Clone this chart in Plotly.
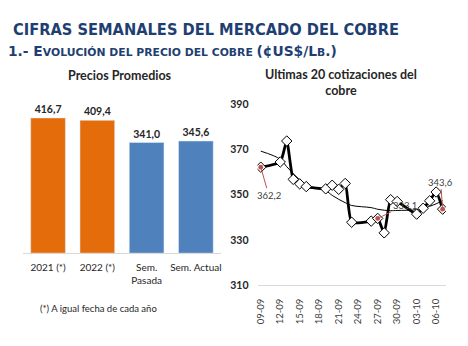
import numpy as np
import pandas as pd
import plotly.graph_objects as go

# ---------------- data ----------------
bar_categories = ["2021 (*)", "2022 (*)", "Sem.<br>Pasada", "Sem. Actual"]
bar_values = [416.7, 409.4, 341.0, 345.6]
bar_colors = ["#E46C0A", "#E46C0A", "#4F81BD", "#4F81BD"]

dates = ["2022-09-09", "2022-09-12", "2022-09-13", "2022-09-14", "2022-09-15",
         "2022-09-16", "2022-09-19", "2022-09-20", "2022-09-21", "2022-09-22",
         "2022-09-23", "2022-09-26", "2022-09-27", "2022-09-28", "2022-09-29",
         "2022-09-30", "2022-10-03", "2022-10-04", "2022-10-05", "2022-10-06",
         "2022-10-07"]
prices = [362.2, 364.5, 373.8, 356.8, 354.8, 353.6, 352.6, 354.2, 352.4, 355.0,
          337.8, 338.3, 339.5, 333.1, 347.8, 347.0, 341.4, 344.0, 347.3, 351.2,
          343.6]

y_ticks = [310, 330, 350, 370, 390]

W, H = 468, 346
NAVY = "#1F3F73"
TXT = "#262626"
CHART_FONT = "Lato"

# polynomial (order 2) trendline over the quote sequence
idx = np.arange(1, len(prices) + 1, dtype=float)
coef = np.polyfit(idx, prices, 2)
trend_y = np.polyval(coef, idx)

fig = go.Figure()

# ---------------- left: bar chart ----------------
fig.add_trace(go.Bar(
    x=bar_categories, y=bar_values, marker_color=bar_colors,
    texttemplate="%{y:.1f}", textposition="outside", cliponaxis=False,
    textfont=dict(family=CHART_FONT, size=10.5, color=TXT, weight="bold"),
    xaxis="x", yaxis="y", showlegend=False,
))

# ---------------- right: line chart ----------------
fig.add_trace(go.Scatter(
    x=dates, y=trend_y, mode="lines",
    line=dict(color="black", width=1, shape="spline", smoothing=1),
    xaxis="x2", yaxis="y2", showlegend=False,
))
fig.add_trace(go.Scatter(
    x=dates, y=prices, mode="lines+markers",
    line=dict(color="black", width=2.8, shape="spline", smoothing=0.5),
    marker=dict(symbol="diamond", size=8, color="white",
                line=dict(color="black", width=1)),
    xaxis="x2", yaxis="y2", showlegend=False,
))

def px_x(p):
    return p / W

def px_y(p):
    return 1 - p / H

fig.update_layout(
    width=W, height=H,
    margin=dict(l=0, r=0, t=0, b=0),
    paper_bgcolor="white", plot_bgcolor="white",
    separators=",.",
    bargap=0.296,
    xaxis=dict(domain=[px_x(20.6), px_x(219.4)], showline=True,
               linecolor="#D9D9D9", linewidth=1, ticks="",
               ticklabelstandoff=5,
               tickfont=dict(family=CHART_FONT, size=10, color=TXT),
               fixedrange=True),
    yaxis=dict(domain=[px_y(256), px_y(104.8)], range=[0, 450],
               visible=False, showgrid=False, zeroline=False),
    xaxis2=dict(domain=[px_x(256.7), px_x(446.7)], type="date",
                range=["2022-09-08 12:00", "2022-10-07 12:00"],
                tick0="2022-09-09", dtick=3 * 86400000, tickformat="%d-%m",
                tickangle=-90, showline=True, linecolor="#D9D9D9",
                showgrid=False, ticks="", ticklabelstandoff=9,
                tickfont=dict(family=CHART_FONT, size=9.5, color="#404040"),
                anchor="y2"),
    yaxis2=dict(domain=[px_y(289), px_y(102)], range=[310, 390],
                tickvals=y_ticks, showgrid=False, zeroline=False,
                showline=False, ticklabelstandoff=8,
                tickfont=dict(family=CHART_FONT, size=10.5, color=TXT,
                              weight="bold"),
                anchor="x2"),
)

big, small = 13.8, 10.8
sub = (f"<span style='font-size:{big}px'>1.- E</span>"
       f"<span style='font-size:{small}px'>VOLUCIÓN DEL PRECIO DEL COBRE </span>"
       f"<span style='font-size:{big}px'>(¢US$/L</span>"
       f"<span style='font-size:{small}px'>B</span>"
       f"<span style='font-size:{big}px'>.)</span>")

annotations = [
    dict(text="CIFRAS SEMANALES DEL MERCADO DEL COBRE", x=px_x(8), y=px_y(24),
         xanchor="left", yanchor="middle",
         font=dict(family="DejaVu Sans Condensed, DejaVu Sans", size=16.3,
                   color=NAVY, weight="bold")),
    dict(text=sub, x=px_x(3), y=px_y(47), xanchor="left", yanchor="middle",
         font=dict(family="DejaVu Sans", size=big, color=NAVY, weight="bold")),
    dict(text="Precios Promedios", x=px_x(118), y=px_y(72),
         xanchor="center", yanchor="middle",
         font=dict(family=CHART_FONT, size=12.5, color=TXT, weight="bold")),
    dict(text="Ultimas 20 cotizaciones del<br>cobre", x=px_x(341), y=px_y(79),
         xanchor="center", yanchor="middle",
         font=dict(family=CHART_FONT, size=12.5, color=TXT, weight="bold")),
    dict(text="(*) A igual fecha de cada año", x=px_x(96), y=px_y(313),
         xanchor="center", yanchor="middle",
         font=dict(family=CHART_FONT, size=9.5, color=TXT)),
]
for a in annotations:
    a.update(xref="paper", yref="paper", showarrow=False)

# data labels with red leader lines
label_specs = [(0, 8, 28), (12, 27, -13), (len(prices) - 1, -2, -27)]
label_texts = ["362,2", "333,1", "343,6"]
for (i, ax, ay), txt in zip(label_specs, label_texts):
    annotations.append(dict(
        x=dates[i], y=prices[i], xref="x2", yref="y2", text=txt,
        showarrow=True, arrowhead=6, arrowsize=1.2, arrowwidth=1,
        arrowcolor="#C0504D", ax=ax, ay=ay, standoff=0,
        font=dict(family=CHART_FONT, size=9.5, color="#404040")))

fig.update_layout(annotations=annotations)

fig.write_html("out.html")
